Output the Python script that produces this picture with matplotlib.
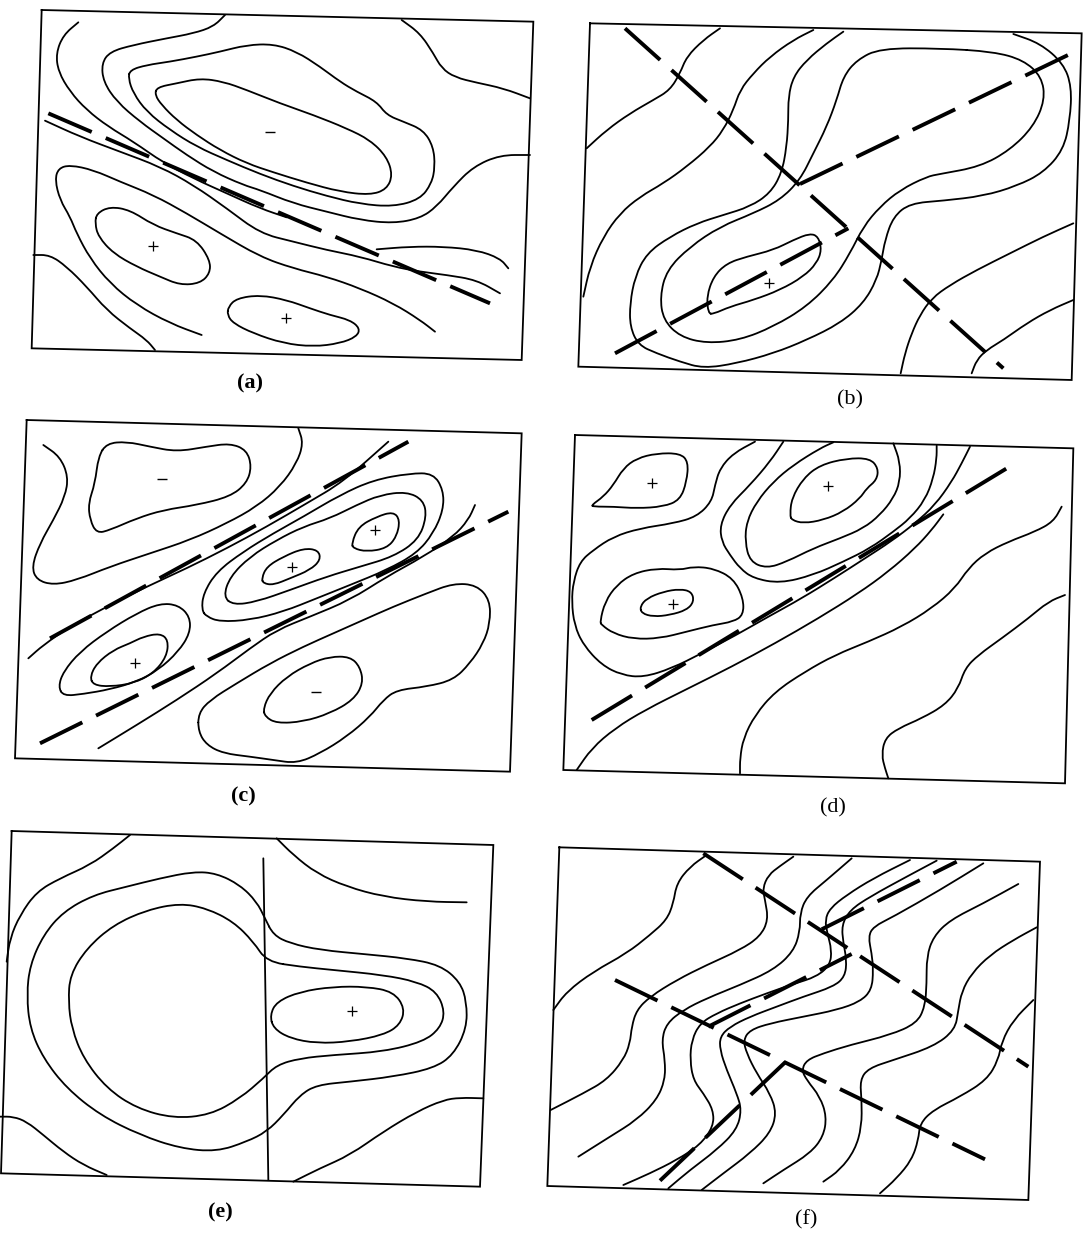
import matplotlib.pyplot as plt
import numpy as np
from matplotlib.path import Path
from matplotlib.patches import PathPatch

# six sketch maps of contour lines with dashed trend lines, scanned figure
# coordinates are read off the picture, in units of 1/3 pixel inside each panel crop

plt.rcParams['lines.scale_dashes'] = False

W, H = 1083, 1242

# ---------------- panel (a) ----------------
a_crop = (20, 0, 530, 400)
a_frame = [(65, 30), (1540, 65), (1505, 1080), (35, 1045)]
a_dash = [[(85, 340), (1410, 910)]]
a_open = [
    [(175, 67), (130, 105), (108, 160), (115, 215), (150, 275), (200, 330), (265, 380), (340, 425),
     (430, 488), (520, 535), (620, 580), (720, 625), (800, 652)],
    [(615, 45), (580, 80), (520, 100), (440, 115), (340, 135), (270, 155), (245, 190), (250, 245),
     (290, 305), (360, 365), (430, 415), (500, 465), (580, 515), (670, 555), (720, 570), (820, 610),
     (920, 635), (1020, 660), (1120, 670), (1200, 655), (1250, 620), (1300, 560), (1360, 500),
     (1440, 465), (1530, 465)],
    [(75, 362), (180, 410), (300, 455), (420, 500), (520, 555), (620, 625), (720, 700), (820, 725),
     (920, 750), (1020, 770), (1120, 800), (1200, 815), (1280, 825), (1370, 840), (1440, 880)],
    [(545, 1005), (450, 970), (350, 915), (270, 850), (210, 775), (170, 700), (150, 650), (120, 600),
     (105, 540), (115, 505), (150, 495), (220, 510), (300, 545), (400, 585), (500, 640), (600, 700),
     (720, 770), (820, 805), (920, 830), (1020, 865), (1120, 910), (1200, 960), (1245, 995)],
    [(1070, 748), (1170, 740), (1270, 740), (1370, 750), (1440, 775), (1465, 805)],
    [(1145, 60), (1200, 100), (1240, 160), (1265, 205), (1305, 232), (1370, 248), (1450, 265), (1530, 295)],
    [(40, 765), (90, 765), (140, 800), (200, 860), (260, 930), (330, 985), (380, 1020), (405, 1050)],
]
a_closed = [
    [(330, 210), (380, 195), (450, 185), (530, 170), (600, 155), (680, 135), (760, 132), (830, 155),
     (900, 200), (960, 245), (1010, 275), (1070, 305), (1100, 345), (1150, 365), (1210, 390),
     (1240, 440), (1245, 500), (1235, 550), (1200, 598), (1120, 620), (1020, 612), (920, 588),
     (820, 558), (720, 522), (620, 480), (530, 440), (450, 390), (380, 335), (340, 280), (325, 235)],
    [(410, 262), (470, 250), (540, 235), (610, 245), (680, 270), (780, 310), (880, 345), (980, 385),
     (1050, 420), (1100, 470), (1118, 525), (1100, 568), (1050, 585), (960, 575), (860, 548),
     (760, 517), (680, 490), (600, 450), (530, 405), (470, 360), (425, 315), (405, 285)],
    [(230, 640), (270, 620), (330, 630), (400, 675), (470, 700), (530, 720), (570, 780), (570, 820),
     (540, 850), (480, 855), (420, 830), (350, 800), (280, 760), (235, 710), (225, 670)],
    [(625, 920), (650, 895), (720, 885), (800, 900), (870, 925), (930, 945), (990, 960), (1020, 985),
     (1010, 1010), (960, 1030), (880, 1040), (790, 1030), (700, 1000), (640, 970), (622, 945)],
]
a_plus = [(400, 737), (797, 955)]
a_minus = [(750, 397)]

# ---------------- panel (b) ----------------
b_crop = (560, 10, 523, 410)
b_frame = [(90, 40), (1565, 70), (1535, 1110), (55, 1070)]
b_dash = [[(195, 55), (1330, 1075)], [(165, 1030), (865, 655)], [(720, 522), (1545, 125)]]
b_open = [
    [(480, 55), (430, 90), (380, 140), (360, 190), (330, 240), (280, 270), (210, 310), (140, 360), (80, 415)],
    [(760, 60), (700, 90), (630, 140), (580, 190), (540, 240), (520, 300), (490, 360), (450, 410),
     (380, 470), (310, 520), (240, 560), (180, 610), (130, 680), (90, 770), (70, 860)],
    [(850, 65), (800, 100), (740, 150), (700, 200), (685, 260), (685, 330), (680, 410), (665, 490),
     (630, 550), (570, 590), (490, 615), (410, 640), (330, 680), (260, 730), (225, 800), (210, 880),
     (210, 950), (235, 1005), (290, 1030), (360, 1055), (430, 1075), (530, 1060), (640, 1030),
     (740, 990), (840, 940), (910, 880), (950, 810), (965, 750), (975, 690), (1000, 620), (1050, 580),
     (1150, 572), (1270, 558), (1370, 528), (1450, 488), (1510, 420), (1530, 330), (1535, 230),
     (1510, 160), (1440, 100), (1360, 72)],
    [(1540, 640), (1450, 680), (1350, 730), (1250, 780), (1170, 825), (1115, 865), (1080, 915),
     (1055, 970), (1035, 1030), (1022, 1090)],
    [(1540, 870), (1470, 900), (1400, 940), (1330, 990), (1280, 1020), (1250, 1050), (1235, 1090)],
]
b_closed = [
    [(1140, 115), (960, 115), (890, 150), (850, 200), (830, 270), (800, 350), (760, 430), (720, 510),
     (660, 570), (580, 610), (480, 650), (390, 710), (320, 780), (300, 860), (310, 930), (360, 980),
     (440, 1000), (540, 990), (640, 950), (740, 890), (820, 810), (870, 730), (910, 650), (960, 590),
     (1020, 540), (1100, 500), (1140, 492), (1260, 470), (1350, 420), (1420, 350), (1455, 270),
     (1445, 200), (1390, 150), (1300, 125)],
    [(445, 910), (440, 860), (460, 800), (500, 760), (560, 740), (640, 720), (700, 690), (750, 670),
     (775, 680), (785, 720), (770, 760), (730, 800), (660, 840), (580, 870), (510, 890), (460, 912)],
]
b_plus = [(628, 820)]
b_minus = []

# ---------------- panel (c) ----------------
c_crop = (10, 410, 530, 400)
c_frame = [(50, 30), (1535, 70), (1500, 1085), (15, 1045)]
c_dash = [[(120, 685), (1195, 95)], [(90, 1000), (1495, 305)]]
c_open = [
    [(100, 105), (150, 140), (175, 200), (165, 260), (130, 330), (90, 400), (65, 470), (80, 510),
     (130, 525), (200, 510), (300, 470), (420, 430), (540, 390), (650, 340), (740, 290), (810, 230),
     (860, 160), (880, 100), (865, 55)],
    [(55, 745), (100, 705), (180, 650), (290, 590), (410, 530), (530, 475), (650, 415), (770, 350),
     (890, 280), (1000, 215), (1135, 95)],
    [(265, 1015), (380, 945), (500, 870), (620, 790), (720, 715), (800, 660), (900, 620), (1020, 570),
     (1130, 500), (1240, 440), (1330, 380), (1375, 330), (1395, 285)],
]
c_closed = [
    [(290, 100), (350, 95), (420, 110), (500, 125), (590, 110), (660, 100), (710, 120), (725, 170),
     (710, 220), (660, 260), (560, 285), (460, 300), (380, 325), (300, 360), (260, 370), (240, 330),
     (235, 280), (255, 220), (265, 140)],
    [(575, 600), (580, 550), (620, 485), (700, 425), (790, 370), (880, 320), (990, 255), (1090, 210),
     (1200, 190), (1270, 190), (1300, 240), (1300, 300), (1270, 370), (1220, 430), (1130, 480),
     (1020, 525), (920, 565), (820, 605), (720, 630), (630, 635), (590, 620)],
    [(640, 560), (660, 500), (720, 440), (800, 390), (880, 350), (960, 325), (1040, 285), (1110, 255),
     (1190, 245), (1240, 270), (1250, 320), (1225, 390), (1150, 440), (1050, 470), (950, 500),
     (840, 540), (740, 575), (670, 585)],
    [(755, 505), (770, 470), (820, 440), (880, 415), (925, 420), (932, 450), (900, 480), (840, 505),
     (790, 525), (760, 520)],
    [(1025, 400), (1045, 350), (1100, 320), (1150, 305), (1170, 330), (1160, 380), (1130, 415),
     (1070, 425), (1030, 415)],
    [(145, 830), (160, 785), (210, 725), (290, 665), (380, 610), (450, 580), (505, 585), (540, 620),
     (540, 670), (505, 725), (445, 780), (380, 815), (300, 838), (220, 852), (160, 858)],
    [(240, 800), (260, 760), (310, 720), (360, 700), (400, 680), (450, 670), (475, 690), (470, 740),
     (430, 790), (370, 820), (300, 830), (250, 825)],
    [(760, 895), (780, 850), (830, 800), (900, 760), (960, 740), (1020, 740), (1050, 770), (1060, 820),
     (1030, 870), (960, 910), (880, 935), (800, 940), (765, 920)],
    [(565, 910), (600, 870), (680, 820), (780, 760), (880, 710), (970, 670), (1060, 630), (1150, 590),
     (1250, 550), (1330, 520), (1400, 525), (1440, 570), (1440, 640), (1420, 700), (1380, 760),
     (1330, 810), (1250, 830), (1160, 840), (1120, 870), (1080, 920), (1010, 980), (930, 1030),
     (860, 1060), (790, 1050), (720, 1040), (640, 1030), (590, 1005), (565, 965)],
]
c_plus = [(1095, 360), (845, 470), (375, 760)]
c_minus = [(455, 207), (918, 847)]

# ---------------- panel (d) ----------------
d_crop = (555, 425, 520, 400)
d_frame = [(60, 30), (1555, 70), (1530, 1075), (25, 1035)]
d_dash = [[(110, 885), (1380, 115)]]
d_open = [
    [(600, 50), (535, 85), (495, 130), (480, 180), (470, 230), (425, 275), (355, 295), (255, 310),
     (175, 335), (115, 375), (75, 410), (55, 470), (50, 530), (58, 600), (85, 660), (140, 720),
     (200, 750), (265, 757), (350, 730), (440, 685), (540, 632), (640, 575), (740, 520), (840, 458),
     (930, 400), (1010, 348), (1080, 295), (1140, 240), (1190, 170), (1220, 115), (1245, 65)],
    [(685, 50), (645, 110), (585, 180), (525, 240), (495, 300), (500, 350), (525, 390), (555, 430),
     (595, 460), (675, 475), (775, 450), (865, 410), (945, 370), (1015, 320), (1065, 280),
     (1110, 225), (1135, 160), (1145, 100), (1145, 62)],
    [(835, 52), (795, 70), (715, 120), (655, 170), (605, 230), (575, 290), (570, 350), (585, 410),
     (635, 430), (695, 410), (775, 370), (855, 340), (925, 310), (975, 270), (1015, 220), (1035, 170),
     (1035, 110), (1015, 55)],
    [(65, 1035), (110, 970), (180, 910), (270, 855), (400, 790), (530, 725), (660, 655), (790, 580),
     (910, 505), (1000, 440), (1080, 370), (1130, 315), (1165, 268)],
    [(1520, 245), (1495, 290), (1440, 320), (1360, 350), (1290, 385), (1240, 430), (1200, 490),
     (1130, 550), (1040, 605), (940, 650), (840, 690), (750, 740), (660, 800), (600, 870), (565, 940),
     (555, 1000), (555, 1045)],
    [(1530, 510), (1480, 530), (1420, 580), (1340, 640), (1270, 690), (1230, 730), (1210, 790),
     (1170, 840), (1100, 880), (1030, 910), (990, 940), (980, 990), (990, 1030), (1000, 1060)],
]
d_closed = [
    [(110, 240), (145, 215), (175, 180), (205, 130), (245, 100), (305, 85), (375, 85), (400, 110),
     (395, 170), (375, 225), (325, 245), (245, 250), (175, 245), (115, 245)],
    [(705, 270), (710, 220), (745, 160), (795, 120), (875, 100), (945, 100), (970, 130), (965, 165),
     (935, 190), (915, 220), (865, 260), (805, 285), (745, 295), (710, 285)],
    [(135, 590), (150, 530), (185, 480), (235, 445), (305, 430), (375, 435), (415, 425), (475, 430),
     (535, 460), (565, 520), (565, 570), (535, 590), (475, 600), (395, 620), (315, 640), (235, 642),
     (175, 625), (140, 600)],
    [(255, 545), (275, 520), (325, 500), (375, 492), (410, 500), (417, 530), (395, 555), (345, 570),
     (295, 575), (260, 565)],
]
d_plus = [(290, 175), (820, 183), (355, 538)]
d_minus = []

# ---------------- panel (e) ----------------
e_crop = (0, 795, 540, 420)
e_frame = [(35, 108), (1480, 150), (1440, 1175), (3, 1135)]
e_dash = []
e_open = [
    [(790, 190), (805, 1155)],
    [(390, 120), (340, 160), (270, 210), (180, 250), (110, 290), (60, 360), (30, 430), (20, 500)],
    [(830, 130), (880, 180), (950, 235), (1040, 275), (1150, 305), (1280, 320), (1400, 322)],
    [(0, 965), (40, 965), (80, 980), (130, 1020), (190, 1070), (250, 1110), (320, 1140)],
    [(880, 1160), (960, 1120), (1050, 1080), (1150, 1010), (1250, 950), (1330, 915), (1380, 908), (1450, 910)],
]
e_closed = [
    [(795, 370), (770, 320), (720, 270), (650, 235), (580, 230), (480, 250), (380, 275), (280, 300),
     (190, 350), (130, 420), (90, 510), (80, 600), (90, 700), (130, 790), (200, 880), (300, 960),
     (420, 1020), (540, 1060), (650, 1070), (740, 1040), (800, 1010), (850, 960), (900, 900),
     (950, 870), (1050, 860), (1180, 845), (1300, 820), (1360, 780), (1400, 700), (1400, 620),
     (1380, 560), (1320, 510), (1220, 490), (1100, 478), (960, 465), (870, 445), (820, 420)],
    [(800, 500), (760, 440), (700, 380), (620, 340), (540, 325), (440, 345), (340, 390), (260, 460),
     (210, 540), (205, 620), (215, 700), (250, 790), (320, 880), (410, 940), (520, 970), (630, 960),
     (720, 910), (790, 850), (830, 810), (900, 790), (1000, 780), (1150, 770), (1270, 740),
     (1320, 700), (1335, 650), (1310, 590), (1250, 560), (1150, 540), (1000, 525), (900, 515)],
    [(810, 660), (830, 620), (900, 590), (1000, 575), (1100, 575), (1180, 590), (1215, 640),
     (1200, 690), (1150, 720), (1050, 740), (950, 745), (870, 730), (820, 700)],
]
e_plus = [(1055, 648)]
e_minus = []

# ---------------- panel (f) ----------------
f_crop = (540, 810, 543, 432)
f_frame = [(58, 112), (1500, 155), (1465, 1170), (22, 1128)]
f_dash = [[(490, 130), (1465, 770)], [(225, 510), (1335, 1048)],
          [(360, 1112), (745, 748)], [(505, 650), (935, 432)], [(845, 358), (1250, 155)]]
f_open = [
    [(40, 600), (80, 545), (160, 485), (260, 430), (330, 375), (380, 330), (400, 280), (410, 220),
     (450, 170), (500, 135)],
    [(32, 900), (130, 850), (200, 810), (250, 750), (270, 700), (275, 650), (290, 600), (330, 560),
     (410, 510), (500, 465), (600, 420), (660, 380), (685, 330), (675, 270), (668, 235), (685, 195),
     (720, 168), (760, 140)],
    [(115, 1040), (210, 980), (290, 930), (350, 870), (375, 810), (375, 750), (365, 690), (380, 640),
     (430, 600), (500, 565), (600, 525), (700, 480), (760, 425), (780, 365), (780, 310), (800, 260),
     (860, 210), (935, 145)],
    [(250, 1125), (330, 1090), (410, 1050), (480, 1005), (520, 950), (520, 900), (490, 850),
     (460, 810), (450, 750), (455, 690), (480, 640), (530, 610), (600, 580), (680, 550), (760, 522),
     (830, 500), (870, 465), (875, 420), (862, 370), (855, 330), (870, 295), (920, 255), (1000, 205),
     (1110, 150)],
    [(385, 1135), (450, 1080), (530, 1020), (590, 960), (605, 900), (590, 850), (560, 780), (540, 720),
     (540, 680), (570, 650), (630, 620), (710, 590), (790, 560), (880, 530), (915, 500), (920, 450),
     (910, 400), (905, 345), (930, 300), (990, 260), (1100, 200), (1190, 152)],
    [(485, 1140), (550, 1090), (630, 1030), (690, 970), (710, 910), (690, 850), (650, 790), (620, 730),
     (610, 690), (630, 660), (690, 640), (790, 620), (890, 600), (960, 575), (995, 540), (1000, 480),
     (995, 430), (985, 380), (1000, 350), (1060, 320), (1200, 240), (1330, 160)],
    [(670, 1120), (730, 1080), (810, 1030), (850, 980), (860, 920), (840, 860), (800, 810), (785, 780),
     (800, 750), (850, 730), (930, 705), (1050, 675), (1130, 640), (1155, 590), (1160, 520),
     (1160, 440), (1180, 380), (1230, 330), (1330, 280), (1435, 222)],
    [(850, 1115), (900, 1080), (945, 1020), (965, 950), (965, 870), (960, 810), (985, 775),
     (1060, 750), (1180, 710), (1245, 660), (1255, 600), (1265, 545), (1295, 490), (1350, 435),
     (1420, 390), (1490, 352)],
    [(1020, 1150), (1070, 1105), (1115, 1050), (1135, 990), (1140, 940), (1180, 900), (1260, 860),
     (1340, 810), (1375, 750), (1385, 695), (1420, 630), (1480, 570)],
]
f_closed = []
f_plus = []
f_minus = []

labels = ['(a)', '(b)', '(c)', '(d)', '(e)', '(f)']
label_xy = [(690, 1150), (870, 1170), (700, 1160), (835, 1150), (660, 1252), (800, 1228)]
label_weight = ['bold', 'normal', 'bold', 'normal', 'bold', 'normal']

panels = [
    (a_crop, a_frame, a_dash, a_open, a_closed, a_plus, a_minus),
    (b_crop, b_frame, b_dash, b_open, b_closed, b_plus, b_minus),
    (c_crop, c_frame, c_dash, c_open, c_closed, c_plus, c_minus),
    (d_crop, d_frame, d_dash, d_open, d_closed, d_plus, d_minus),
    (e_crop, e_frame, e_dash, e_open, e_closed, e_plus, e_minus),
    (f_crop, f_frame, f_dash, f_open, f_closed, f_plus, f_minus),
]


def smooth_path(pts, closed=False):
    # quadratic bezier through midpoints, with the read points as control points
    p = np.array(pts, dtype=float)
    n = len(p)
    if closed:
        mids = (p + np.roll(p, -1, axis=0)) / 2
        verts = [mids[-1]]
        codes = [Path.MOVETO]
        for i in range(n):
            verts += [p[i], mids[i]]
            codes += [Path.CURVE3, Path.CURVE3]
        return Path(verts, codes)
    if n < 3:
        return Path(p, [Path.MOVETO] + [Path.LINETO] * (n - 1))
    mids = (p[:-1] + p[1:]) / 2
    verts = [p[0], mids[0]]
    codes = [Path.MOVETO, Path.LINETO]
    for i in range(1, n - 1):
        verts += [p[i], mids[i]]
        codes += [Path.CURVE3, Path.CURVE3]
    verts.append(p[-1])
    codes.append(Path.LINETO)
    return Path(verts, codes)


def curve(ax, pts, closed=False, lw=1.3):
    ax.add_patch(PathPatch(smooth_path(pts, closed), fill=False, edgecolor='black',
                           lw=lw, capstyle='round', joinstyle='round'))


fig = plt.figure(figsize=(W / 100, H / 100), dpi=100)
fig.patch.set_facecolor('white')

for i, (crop, frame, dash, opn, clo, plus, minus) in enumerate(panels):
    x0, y0, w, h = crop
    ax = fig.add_axes([x0 / W, 1 - (y0 + h) / H, w / W, h / H])
    ax.set_xlim(0, 3 * w)
    ax.set_ylim(3 * h, 0)
    ax.axis('off')

    fr = np.array(frame + frame[:1], dtype=float)
    ax.plot(fr[:, 0], fr[:, 1], color='black', lw=1.3, solid_joinstyle='miter')
    for c in opn:
        curve(ax, c)
    for c in clo:
        curve(ax, c, closed=True)
    for d in dash:
        p = np.array(d, dtype=float)
        ax.plot(p[:, 0], p[:, 1], color='black', lw=2.8, dashes=(34, 11),
                dash_capstyle='butt')
    if plus:
        p = np.array(plus, dtype=float)
        ax.plot(p[:, 0], p[:, 1], '+', color='black', ms=7, mew=0.9)
    if minus:
        p = np.array(minus, dtype=float)
        ax.plot(p[:, 0], p[:, 1], '_', color='black', ms=7, mew=1.0)
    lx, ly = label_xy[i]
    ax.text(lx, ly, labels[i], ha='center', va='center', fontsize=16,
            family='Liberation Serif', fontweight=label_weight[i], clip_on=False)

fig.savefig('out.png', dpi=100, facecolor='white')
